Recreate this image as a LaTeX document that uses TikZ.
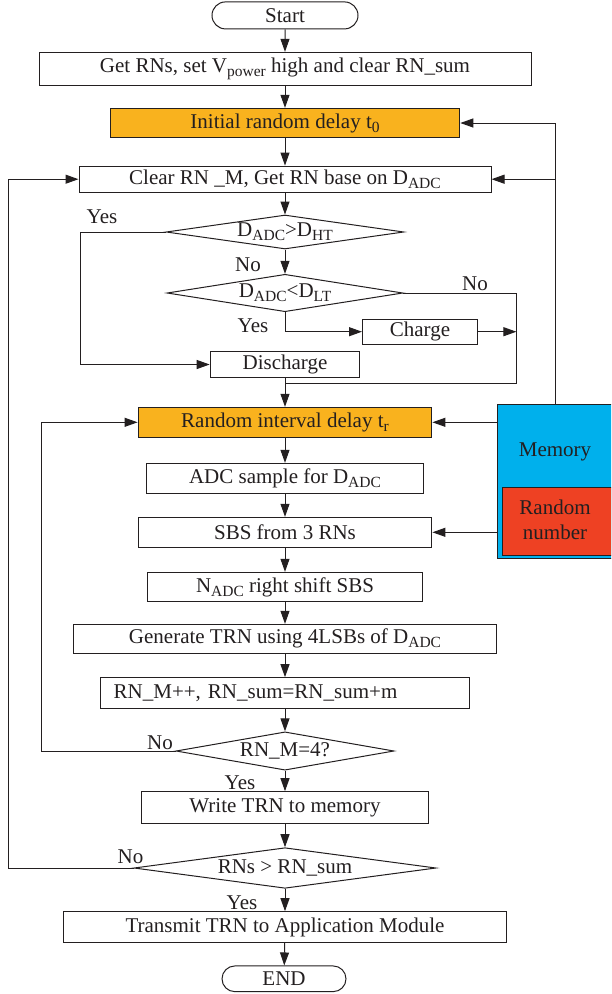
\documentclass[tikz,border=0pt]{standalone}
\usepackage{fontspec}
\setmainfont{Liberation Serif}
\usetikzlibrary{shapes.geometric,shapes.misc,arrows.meta}
\definecolor{dlyorange}{HTML}{F9B21E}
\definecolor{memblue}{HTML}{00B0EC}
\definecolor{rnred}{HTML}{EE4123}
\definecolor{inkc}{HTML}{231F20}
\newcommand\lo[1]{\raisebox{-4pt}{\fontsize{15.5}{15.5}\selectfont #1}}
\begin{document}
\begin{tikzpicture}[x=1pt,y=-1pt, line width=1pt, draw=inkc, text=inkc,
  >={Triangle[length=13pt,width=9pt]},
  txt/.style={font=\fontsize{21}{24}\selectfont},
  box/.style={draw, rectangle, inner sep=0pt, txt},
  dec/.style={draw, diamond, aspect=7, inner sep=0pt, txt},
  term/.style={draw, rounded rectangle, inner sep=0pt, txt},
  lab/.style={inner sep=0pt, txt}]
\clip (0,0) rectangle (611,994);
\fill[white] (0,0) rectangle (611,994);

% main column
\node[term, minimum width=146, minimum height=27] (start) at (285,15.4) {Start};
\node[box, minimum width=492, minimum height=33.4] (get) at (285,69) {Get RNs, set V\lo{power} high and clear RN\_sum};
\node[box, fill=dlyorange, minimum width=349.6, minimum height=29.4] (init) at (285,123) {Initial random delay t\lo{0}};
\node[box, minimum width=412, minimum height=26.3] (clear) at (285,179.2) {Clear RN \_M, Get RN base on D\lo{ADC}};
\node[dec, minimum width=237.7, minimum height=34] (d1) at (285,232) {D\lo{ADC}>D\lo{HT}};
\node[dec, minimum width=235.8, minimum height=37.4] (d2) at (285,293) {D\lo{ADC}<D\lo{LT}};
\node[box, minimum width=115, minimum height=25.3] (charge) at (420,331.7) {Charge};
\node[box, minimum width=149.6, minimum height=25.6] (disc) at (285,364.5) {Discharge};
\node[box, fill=dlyorange, minimum width=293.8, minimum height=30] (random) at (285,422.3) {Random interval delay t\lo{r}};
\node[box, minimum width=276.7, minimum height=30] (adc) at (285,478.3) {ADC sample for D\lo{ADC}};
\node[box, minimum width=293.8, minimum height=30] (sbs) at (285,532.3) {SBS from 3 RNs};
\node[box, minimum width=275, minimum height=29.4] (nadc) at (285,587) {N\lo{ADC} right shift SBS};
\node[box, minimum width=423.5, minimum height=29] (gen) at (285,638.8) {Generate TRN using 4LSBs of D\lo{ADC}};
\node[box, minimum height=31.3, text width=342.6, inner xsep=13, align=left] (rnm) at (285,693.3) {RN\_M++, RN\_sum=RN\_sum+m};
\node[dec, minimum width=218, minimum height=38.3] (d3) at (285,751) {RN\_M=4?};
\node[box, minimum width=287.7, minimum height=31.6] (write) at (285,807.5) {Write TRN to memory};
\node[dec, minimum width=302, minimum height=40.6] (d4) at (285,868) {RNs > RN\_sum};
\node[box, minimum width=442.7, minimum height=30.6] (trans) at (285,927) {Transmit TRN to Application Module};
\node[term, minimum width=124, minimum height=25.7] (end) at (284,978.8) {END};

% memory block
\node[draw, fill=memblue, rectangle, inner sep=0pt, minimum width=116, minimum height=154, anchor=north west] (mem) at (497,404.3) {};
\node[lab] (memtxt) at (555,451.7) {Memory};
\node[draw, fill=rnred, rectangle, inner sep=0pt, minimum width=111, minimum height=67.7, anchor=north west] (rnbox) at (502,487.3) {};
\node[lab, align=center, font=\fontsize{21}{25.6}\selectfont] (rntxt) at (555,520) {Random\\number};

% labels
\node[lab] (yes1) at (102,217) {Yes};
\node[lab] (no1) at (248,265) {No};
\node[lab] (no2) at (475,284) {No};
\node[lab] (yes2) at (253,326) {Yes};
\node[lab] (no3) at (160,743) {No};
\node[lab] (yes3) at (240,782.7) {Yes};
\node[lab] (no4) at (130.5,856.7) {No};
\node[lab] (yes4) at (242,902.7) {Yes};

% helper coordinates
\coordinate (xyes) at (80,0);
\coordinate (xjr) at (516.4,383.3);
\coordinate (xjm) at (285,383.3);
\coordinate (xl3) at (41,0);
\coordinate (xl4) at (8.6,0);

% main arrows
\draw[->] (start) -- (get);
\draw[->] (get) -- (init);
\draw[->] (init) -- (clear);
\draw[->] (clear) -- (d1);
\draw[->] (d1) -- (d2);
\draw[->] (d2.south) |- (charge.west);
\draw[->] (d1.west) -- (d1.west -| xyes) |- (disc.west);
\draw (d2.east) -| (xjr) -- (xjm);
\draw[->] (charge.east) -- (charge.east -| xjr);
\draw[->] (disc) -- (random);
\draw[->] (random) -- (adc);
\draw[->] (adc) -- (sbs);
\draw[->] (sbs) -- (nadc);
\draw[->] (nadc) -- (gen);
\draw[->] (gen) -- (rnm);
\draw[->] (rnm) -- (d3);
\draw[->] (d3) -- (write);
\draw[->] (write) -- (d4);
\draw[->] (d4) -- (trans);
\draw[->] (trans) -- (end);
\draw[->] (d3.west) -- (d3.west -| xl3) |- (random.west);
\draw[->] (d4.west) -- (d4.west -| xl4) |- (clear.west);

% memory arrows
\draw[->] (random.east -| mem.west) -- (random.east);
\draw[->] (sbs.east -| mem.west) -- (sbs.east);
\draw[->] (mem.north) |- (init.east);
\draw[->] (clear.east -| mem.north) -- (clear.east);
\end{tikzpicture}
\end{document}
